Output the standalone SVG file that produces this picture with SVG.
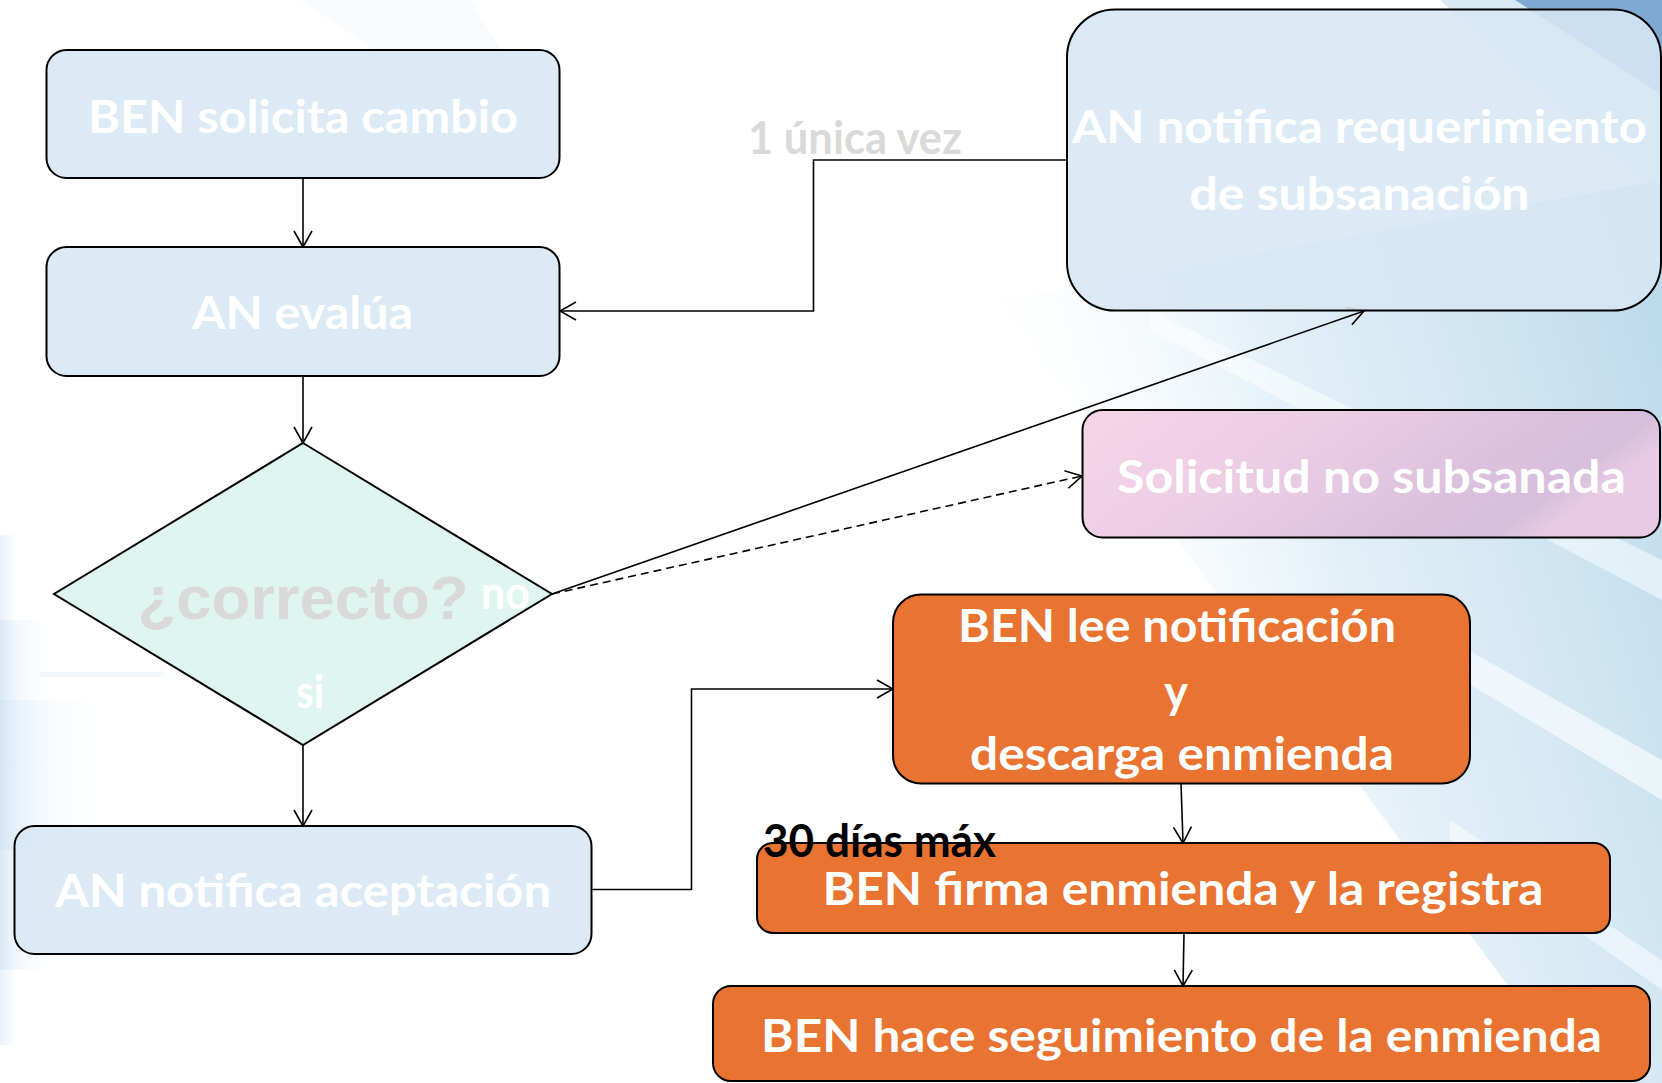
<svg xmlns="http://www.w3.org/2000/svg" width="1662" height="1083" viewBox="0 0 1662 1083">
<defs>
<style>
.box{stroke:#000;stroke-width:2}
.blue{fill:#d7e7f5;fill-opacity:0.88}
.orange{fill:#e97331}
.t{font-family:Lato,"Noto Sans","DejaVu Sans",sans-serif;font-weight:700;font-size:45px;fill:#fff;text-anchor:middle}
.gray{fill:#d9d9d9}
.con{fill:none;stroke:#000;stroke-width:1.6}
</style>
<marker id="arr" markerUnits="userSpaceOnUse" viewBox="0 0 20 20" markerWidth="20" markerHeight="20" refX="18" refY="10" orient="auto">
<path d="M2,1 L18,10 L2,19" fill="none" stroke="#000" stroke-width="1.6"/>
</marker>
<linearGradient id="band" x1="1000" y1="500" x2="1662" y2="300" gradientUnits="userSpaceOnUse">
<stop offset="0" stop-color="#ffffff" stop-opacity="0"/>
<stop offset="0.45" stop-color="#d6e9f4" stop-opacity="0.7"/>
<stop offset="1" stop-color="#bcdaec"/>
</linearGradient>
<linearGradient id="left" x1="0" y1="0" x2="1" y2="0">
<stop offset="0" stop-color="#bcd9ee" stop-opacity="0.7"/>
<stop offset="1" stop-color="#d6e8f5" stop-opacity="0.1"/>
</linearGradient>
<linearGradient id="pink" x1="0" y1="0" x2="1" y2="0.3">
<stop offset="0" stop-color="#f6d5e8"/>
<stop offset="0.4" stop-color="#edcde4"/>
<stop offset="0.75" stop-color="#dcc1de"/>
<stop offset="0.92" stop-color="#d6bedc"/>
<stop offset="1" stop-color="#e8cbe2"/>
</linearGradient>
</defs>

<g id="background">
<rect x="0" y="0" width="1662" height="1083" fill="#fff"/>
<polygon points="300,0 470,0 520,80 420,80" fill="#f1f5f9" opacity="0.5"/>
<polygon points="1440,0 1662,0 1662,200" fill="#c9dff0" opacity="0.7"/>
<polygon points="1515,0 1662,0 1662,95" fill="#7ea9d3"/>
<polygon points="1000,300 1662,180 1662,1083 1580,1083" fill="url(#band)"/>
<polygon points="1150,310 1662,560 1662,600 1150,330" fill="#fff" opacity="0.5"/>
<polygon points="1380,600 1662,760 1662,800 1380,630" fill="#fff" opacity="0.6"/>
<polygon points="1450,820 1662,960 1662,990 1450,840" fill="#fff" opacity="0.5"/>
<rect x="0" y="535" width="16" height="510" fill="url(#left)" opacity="0.5"/>
<rect x="0" y="620" width="42" height="350" fill="url(#left)" opacity="0.5"/>
<rect x="0" y="700" width="90" height="150" fill="url(#left)" opacity="0.35"/>
<rect x="40" y="672" width="125" height="5" fill="#e3eff8" opacity="0.5"/>
<rect x="40" y="912" width="125" height="5" fill="#e3eff8" opacity="0.5"/>
</g>

<g id="connectors">
<line class="con" x1="303" y1="178" x2="303" y2="247" marker-end="url(#arr)"/>
<line class="con" x1="303" y1="376" x2="303" y2="443" marker-end="url(#arr)"/>
<line class="con" x1="303" y1="745" x2="303" y2="826" marker-end="url(#arr)"/>
<polyline class="con" points="592,889.5 691.5,889.5 691.5,689 893,689" marker-end="url(#arr)"/>
<line class="con" x1="1181" y1="783" x2="1183" y2="843" marker-end="url(#arr)"/>
<line class="con" x1="1184" y1="933" x2="1183" y2="986" marker-end="url(#arr)"/>
<polyline class="con" points="1067,160 813.5,160 813.5,311 560,311" marker-end="url(#arr)"/>
<line class="con" x1="552" y1="594" x2="1364" y2="311" marker-end="url(#arr)"/>
<line class="con" x1="552" y1="594" x2="1082" y2="476" stroke-dasharray="8 5" marker-end="url(#arr)"/>
</g>

<g id="n-solicita">
<rect class="box blue" x="46.5" y="50" width="513" height="128" rx="20"/>
<text class="t" x="303" y="133" textLength="430" lengthAdjust="spacingAndGlyphs">BEN solicita cambio</text>
</g>

<g id="n-evalua">
<rect class="box blue" x="46.5" y="247" width="513" height="129" rx="20"/>
<text class="t" x="302.5" y="329" textLength="221" lengthAdjust="spacingAndGlyphs">AN evalúa</text>
</g>

<g id="n-correcto">
<polygon class="box" points="303,443 552,594 303,745 54,594" fill="#dff5ef"/>
<text x="303" y="619" font-family="'Liberation Sans',Arial,sans-serif" font-weight="700" font-size="62" text-anchor="middle" class="gray" textLength="331" lengthAdjust="spacingAndGlyphs">¿correcto?</text>
<text class="t" x="505.5" y="609" textLength="49" lengthAdjust="spacingAndGlyphs">no</text>
<text class="t" x="310" y="708" textLength="28" lengthAdjust="spacingAndGlyphs">si</text>
</g>

<g id="n-aceptacion">
<rect class="box blue" x="14.5" y="826" width="577" height="128" rx="20"/>
<text class="t" x="303" y="907" textLength="496" lengthAdjust="spacingAndGlyphs">AN notifica aceptación</text>
</g>

<g id="n-requerimiento">
<rect class="box blue" x="1067" y="9.5" width="594" height="301" rx="48"/>
<text class="t" x="1359.5" y="143" textLength="575" lengthAdjust="spacingAndGlyphs">AN notifica requerimiento</text>
<text class="t" x="1359.5" y="210" textLength="340" lengthAdjust="spacingAndGlyphs">de subsanación</text>
</g>

<g id="l-unica">
<text class="t" x="855" y="154" textLength="214" lengthAdjust="spacingAndGlyphs" style="fill:#d9d9d9">1 única vez</text>
</g>

<g id="n-nosubsanada">
<rect class="box" x="1082.5" y="410" width="577.5" height="127.5" rx="20" fill="url(#pink)"/>
<text class="t" x="1371.5" y="493" textLength="509" lengthAdjust="spacingAndGlyphs">Solicitud no subsanada</text>
</g>

<g id="n-lee">
<rect class="box orange" x="893" y="594.5" width="577" height="189" rx="28"/>
<text class="t" x="1177" y="642" textLength="438" lengthAdjust="spacingAndGlyphs">BEN lee notificación</text>
<text class="t" x="1176" y="708">y</text>
<text class="t" x="1182" y="770" textLength="424" lengthAdjust="spacingAndGlyphs">descarga enmienda</text>
</g>

<g id="n-firma">
<rect class="box orange" x="757" y="843" width="853" height="90" rx="16"/>
<text class="t" x="1183" y="905" textLength="721" lengthAdjust="spacingAndGlyphs">BEN firma enmienda y la registra</text>
</g>

<g id="l-30dias">
<text class="t" x="879.5" y="857" textLength="233" lengthAdjust="spacingAndGlyphs" style="fill:#000">30 días máx</text>
</g>

<g id="n-seguimiento">
<rect class="box orange" x="713" y="986" width="937" height="95" rx="18"/>
<text class="t" x="1181.5" y="1052" textLength="841" lengthAdjust="spacingAndGlyphs">BEN hace seguimiento de la enmienda</text>
</g>
</svg>
